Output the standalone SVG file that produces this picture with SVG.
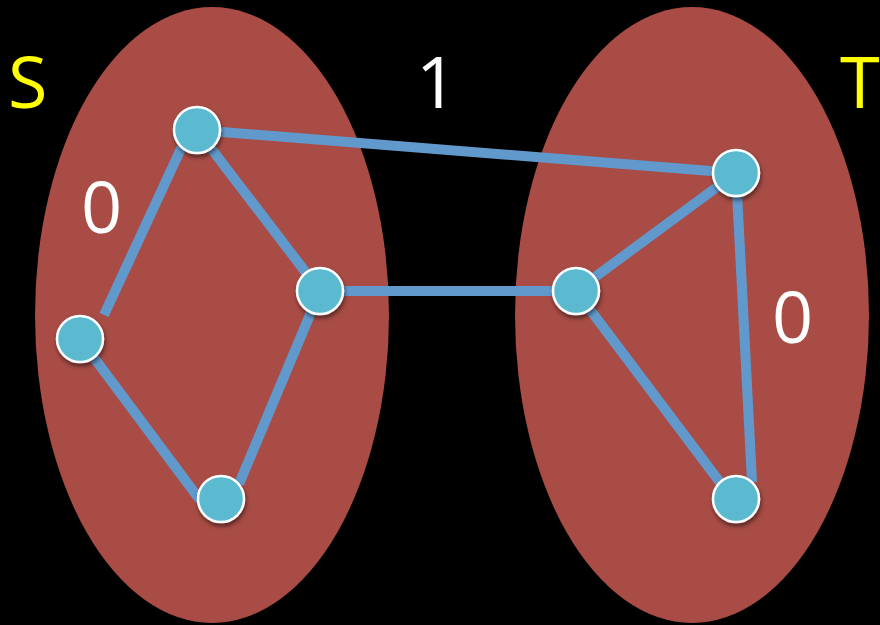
<svg xmlns="http://www.w3.org/2000/svg" width="880" height="625" viewBox="0 0 880 625">
<defs>
<style>
.blob{fill:#a84c45}
.edge{stroke:#6199cc;stroke-width:10;fill:none}
.node{fill:#5bbad0;stroke:#ffffff;stroke-width:2.5;filter:url(#sh)}
.lbl{font-family:"Open Sans","Liberation Sans",sans-serif;font-size:72px;fill:#ffffff}
.set{fill:#ffff00}
</style>
<filter id="sh" x="-50%" y="-50%" width="200%" height="200%">
<feDropShadow dx="1" dy="3" stdDeviation="2" flood-color="#000" flood-opacity="0.5"/>
</filter>
</defs>
<rect width="880" height="625" fill="#000"/>
<g id="setS"><ellipse class="blob" cx="212" cy="315" rx="177" ry="308"/></g>
<g id="setT"><ellipse class="blob" cx="692" cy="315" rx="177" ry="308"/></g>
<g id="connectors">
<line class="edge" x1="197" y1="130" x2="736" y2="173"/>
<line class="edge" x1="185" y1="140" x2="104" y2="315"/>
<line class="edge" x1="80" y1="339" x2="200" y2="500"/>
<line class="edge" x1="239" y1="484" x2="320" y2="291"/>
<line class="edge" x1="197" y1="130" x2="320" y2="291"/>
<line class="edge" x1="320" y1="291" x2="576" y2="291"/>
<line class="edge" x1="576" y1="291" x2="736" y2="173"/>
<line class="edge" x1="576" y1="291" x2="722" y2="485"/>
<line class="edge" x1="736" y1="173" x2="752" y2="482"/>
</g>
<g id="n1"><circle class="node" cx="197" cy="130" r="23"/></g>
<g id="n2"><circle class="node" cx="80" cy="339" r="23"/></g>
<g id="n3"><circle class="node" cx="221" cy="499" r="23"/></g>
<g id="n4"><circle class="node" cx="320" cy="291" r="23"/></g>
<g id="n5"><circle class="node" cx="576" cy="291" r="23"/></g>
<g id="n6"><circle class="node" cx="736" cy="173" r="23"/></g>
<g id="n7"><circle class="node" cx="736" cy="499" r="23"/></g>
<g id="labels">
<text class="lbl set" x="8" y="108">S</text>
<text class="lbl set" x="840" y="108">T</text>
<text class="lbl" x="416" y="108">1</text>
<text class="lbl" x="81" y="233">0</text>
<text class="lbl" x="772" y="343">0</text>
</g>
</svg>
